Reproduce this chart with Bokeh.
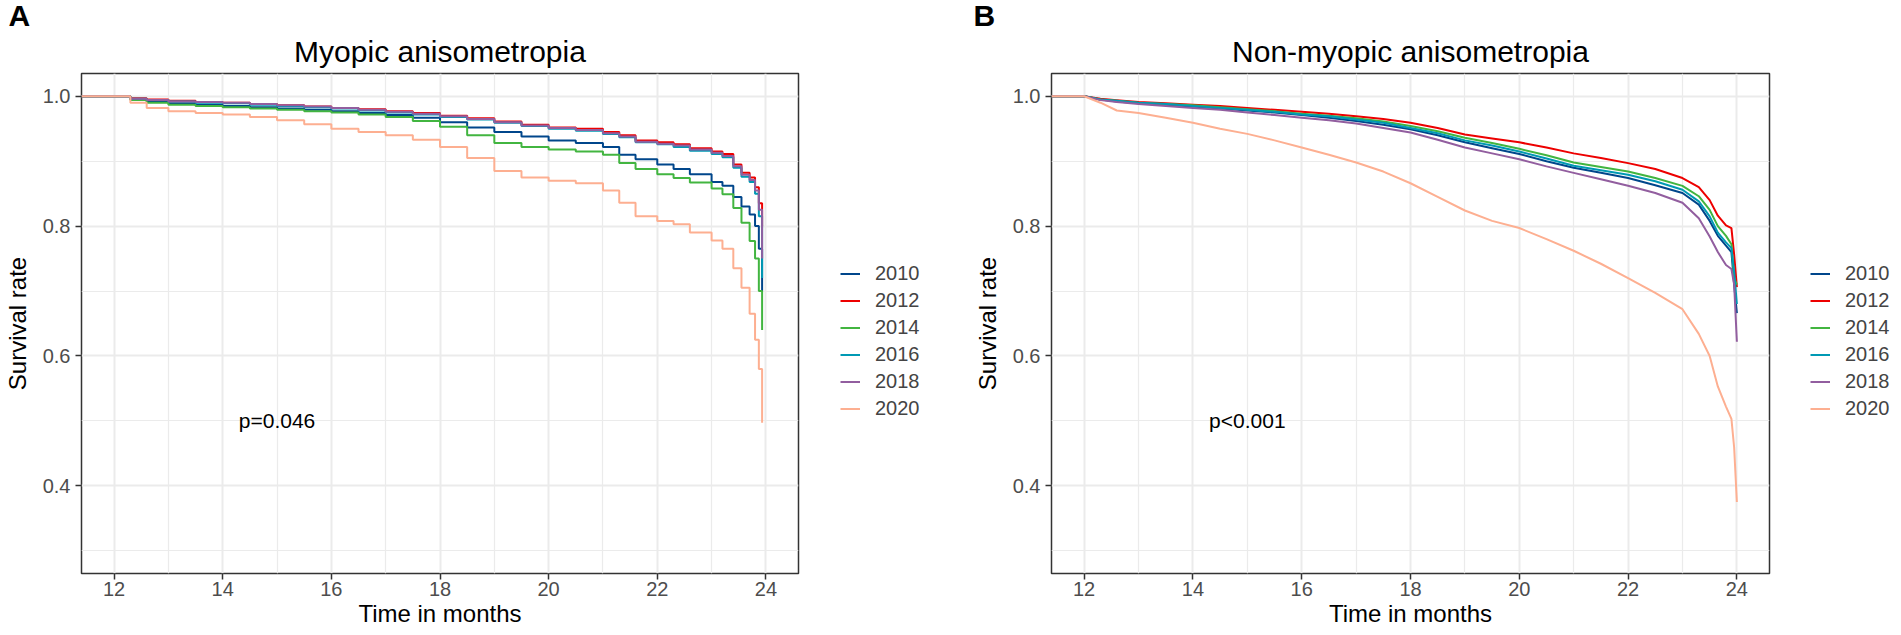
from bokeh.plotting import figure
from bokeh.models import FixedTicker, Legend, LegendItem, Label, Title, Range1d, PrintfTickFormatter
from bokeh.layouts import row
from bokeh.embed import file_html
from bokeh.resources import INLINE

years = ["2010", "2012", "2014", "2016", "2018", "2020"]
colors = ["#00468B", "#ED0000", "#42B540", "#0099B4", "#925E9F", "#FDAF91"]

x_major = [12, 14, 16, 18, 20, 22, 24]
x_minor = [13, 15, 17, 19, 21, 23]
y_major = [0.4, 0.6, 0.8, 1.0]
y_minor = [0.3, 0.5, 0.7, 0.9]

# Panel A: Myopic anisometropia (Kaplan-Meier curves start at time 0 with survival 1.0)
time_a = [0.0, 12.0, 12.3, 12.6, 13.0, 13.5, 14.0, 14.5, 15.0, 15.5, 16.0, 16.5, 17.0, 17.5, 18.0, 18.5,
          19.0, 19.5, 20.0, 20.5, 21.0, 21.3, 21.6, 22.0, 22.3, 22.6, 23.0, 23.2, 23.4, 23.55, 23.7,
          23.8, 23.87, 23.93]
a_2010 = [1.0, 1.0, 0.995, 0.992, 0.989, 0.987, 0.985, 0.983, 0.981, 0.979, 0.977, 0.974, 0.971, 0.967, 0.960, 0.952,
          0.945, 0.938, 0.932, 0.928, 0.922, 0.910, 0.903, 0.895, 0.888, 0.880, 0.868, 0.862, 0.845, 0.830, 0.818,
          0.800, 0.765, 0.700]
a_2012 = [1.0, 1.0, 0.997, 0.995, 0.993, 0.991, 0.990, 0.988, 0.986, 0.984, 0.982, 0.980, 0.977, 0.974, 0.970, 0.966,
          0.961, 0.956, 0.952, 0.950, 0.945, 0.940, 0.932, 0.929, 0.926, 0.920, 0.915, 0.911, 0.895, 0.882, 0.875,
          0.860, 0.835, 0.800]
a_2014 = [1.0, 1.0, 0.994, 0.990, 0.987, 0.985, 0.983, 0.981, 0.979, 0.977, 0.975, 0.972, 0.968, 0.962, 0.953, 0.940,
          0.928, 0.922, 0.918, 0.915, 0.910, 0.897, 0.888, 0.880, 0.874, 0.867, 0.858, 0.849, 0.828, 0.805, 0.777,
          0.750, 0.700, 0.640]
a_2016 = [1.0, 1.0, 0.996, 0.994, 0.992, 0.990, 0.989, 0.987, 0.985, 0.983, 0.981, 0.978, 0.975, 0.972, 0.968, 0.964,
          0.959, 0.954, 0.950, 0.947, 0.942, 0.937, 0.929, 0.926, 0.922, 0.916, 0.911, 0.906, 0.890, 0.876, 0.868,
          0.850, 0.815, 0.720]
a_2018 = [1.0, 1.0, 0.996, 0.994, 0.992, 0.991, 0.990, 0.988, 0.986, 0.984, 0.982, 0.979, 0.976, 0.973, 0.969, 0.965,
          0.960, 0.955, 0.951, 0.948, 0.943, 0.938, 0.930, 0.927, 0.924, 0.918, 0.913, 0.908, 0.892, 0.879, 0.871,
          0.855, 0.825, 0.750]
a_2020 = [1.0, 1.0, 0.990, 0.982, 0.977, 0.974, 0.972, 0.968, 0.963, 0.957, 0.950, 0.945, 0.940, 0.933, 0.922, 0.905,
          0.885, 0.875, 0.870, 0.866, 0.855, 0.836, 0.815, 0.808, 0.803, 0.790, 0.778, 0.765, 0.735, 0.705, 0.665,
          0.625, 0.580, 0.497]

# Panel B: Non-myopic anisometropia
time_b = [0.0, 12.0, 12.3, 12.6, 13.0, 13.5, 14.0, 14.5, 15.0, 15.5, 16.0, 16.5, 17.0, 17.5, 18.0, 18.5,
          19.0, 19.5, 20.0, 20.5, 21.0, 21.5, 22.0, 22.5, 23.0, 23.3, 23.5, 23.65, 23.8, 23.9, 23.95, 24.0]
b_2010 = [1.0, 1.0, 0.995, 0.992, 0.989, 0.987, 0.984, 0.981, 0.978, 0.975, 0.971, 0.967, 0.962, 0.956, 0.949, 0.940,
          0.929, 0.920, 0.911, 0.900, 0.890, 0.882, 0.874, 0.863, 0.851, 0.833, 0.808, 0.785, 0.770, 0.760, 0.710, 0.666]
b_2012 = [1.0, 1.0, 0.996, 0.994, 0.991, 0.989, 0.987, 0.985, 0.982, 0.979, 0.976, 0.973, 0.969, 0.965, 0.959, 0.951,
          0.941, 0.935, 0.929, 0.921, 0.912, 0.905, 0.897, 0.888, 0.874, 0.860, 0.840, 0.816, 0.801, 0.797, 0.756, 0.706]
b_2014 = [1.0, 1.0, 0.995, 0.993, 0.990, 0.988, 0.986, 0.983, 0.980, 0.977, 0.973, 0.970, 0.966, 0.961, 0.954, 0.946,
          0.936, 0.928, 0.919, 0.909, 0.898, 0.891, 0.884, 0.874, 0.862, 0.846, 0.825, 0.800, 0.785, 0.772, 0.720, 0.710]
b_2016 = [1.0, 1.0, 0.995, 0.993, 0.990, 0.988, 0.985, 0.982, 0.979, 0.976, 0.972, 0.969, 0.964, 0.959, 0.951, 0.943,
          0.932, 0.924, 0.915, 0.904, 0.893, 0.886, 0.879, 0.869, 0.856, 0.838, 0.815, 0.790, 0.775, 0.766, 0.730, 0.680]
b_2018 = [1.0, 1.0, 0.994, 0.991, 0.988, 0.985, 0.982, 0.979, 0.975, 0.971, 0.967, 0.963, 0.958, 0.951, 0.944, 0.933,
          0.921, 0.912, 0.903, 0.892, 0.882, 0.872, 0.862, 0.851, 0.836, 0.812, 0.784, 0.760, 0.740, 0.734, 0.710, 0.622]
b_2020 = [1.0, 1.0, 0.990, 0.978, 0.974, 0.967, 0.959, 0.950, 0.942, 0.932, 0.921, 0.910, 0.898, 0.884, 0.866, 0.845,
          0.824, 0.808, 0.797, 0.780, 0.762, 0.742, 0.720, 0.697, 0.672, 0.634, 0.600, 0.553, 0.522, 0.503, 0.459, 0.375]

FONT = "Liberation Sans"
H = 635
TOP = 73
BOTTOM = 62


def draw_series(p, times, series, use_step):
    out = []
    for col, vals in zip(colors, series):
        if use_step:
            out.append(p.step(times, vals, mode="after", line_color=col, line_width=2))
        else:
            out.append(p.line(times, vals, line_color=col, line_width=2))
    return out


def make_panel(letter, title, times, series, use_step, ptext, left, letter_offset):
    p = figure(width=left + 718 + 2, height=H, x_range=Range1d(11.4, 24.6), y_range=Range1d(0.265, 1.035),
               output_backend="svg", toolbar_location=None, title=None,
               min_border_left=left, min_border_right=2, min_border_top=TOP, min_border_bottom=BOTTOM)
    p.background_fill_color = "white"
    p.border_fill_color = "white"
    p.outline_line_color = "#333333"
    p.outline_line_width = 1.5

    p.xaxis.ticker = FixedTicker(ticks=x_major, minor_ticks=x_minor)
    p.yaxis.ticker = FixedTicker(ticks=y_major, minor_ticks=y_minor)
    p.xaxis.formatter = PrintfTickFormatter(format="%d")
    p.yaxis.formatter = PrintfTickFormatter(format="%.1f")
    for ax in (p.xaxis, p.yaxis):
        ax.axis_line_color = None
        ax.major_tick_line_color = "#333333"
        ax.major_tick_line_width = 1.5
        ax.major_tick_out = 6
        ax.major_tick_in = 0
        ax.minor_tick_out = 0
        ax.minor_tick_in = 0
        ax.major_label_text_font = FONT
        ax.major_label_text_font_size = "20px"
        ax.major_label_text_color = "#4D4D4D"
        ax.axis_label_text_font = FONT
        ax.axis_label_text_font_size = "24px"
        ax.axis_label_text_font_style = "normal"
        ax.axis_label_text_color = "black"
    p.xaxis.axis_label = "Time in months"
    p.yaxis.axis_label = "Survival rate"
    p.xaxis.major_label_standoff = 2
    p.yaxis.major_label_standoff = 5
    p.xaxis.axis_label_standoff = 1
    p.yaxis.axis_label_standoff = 9

    for g in (p.xgrid, p.ygrid):
        g.grid_line_color = "#EBEBEB"
        g.grid_line_width = 2
        g.minor_grid_line_color = "#EBEBEB"
        g.minor_grid_line_width = 1.2

    draw_series(p, times, series, use_step)

    p.add_layout(Label(x=15, y=0.5, text=ptext, text_align="center", text_baseline="middle",
                       text_font=FONT, text_font_size="21px", text_color="black"))

    p.add_layout(Title(text=title, align="center", text_font=FONT, text_font_size="30px",
                       text_font_style="normal", text_color="black", standoff=11), "above")
    p.add_layout(Title(text=letter, align="left", offset=letter_offset, text_font=FONT,
                       text_font_size="30px", text_font_style="bold", text_color="black",
                       standoff=-9), "above")
    return p


def make_legend(width, x_off, times, series, use_step):
    # the legend lives in its own narrow figure; its lines are drawn outside its (empty) view
    q = figure(width=width, height=H, x_range=Range1d(100, 101), y_range=Range1d(0, 1),
               output_backend="svg", toolbar_location=None, title=None,
               x_axis_type=None, y_axis_type=None,
               min_border_left=0, min_border_right=0, min_border_top=TOP, min_border_bottom=BOTTOM)
    q.outline_line_color = None
    q.xgrid.visible = False
    q.ygrid.visible = False
    q.background_fill_color = "white"
    q.border_fill_color = "white"
    renderers = draw_series(q, times, series, use_step)
    items = [LegendItem(label=yr, renderers=[r]) for yr, r in zip(years, renderers)]
    legend = Legend(items=items, location=(x_off, 151), orientation="vertical",
                    glyph_width=20, glyph_height=27, label_height=27, spacing=0,
                    label_standoff=15, padding=0, margin=0,
                    label_text_font=FONT, label_text_font_size="20px",
                    border_line_color=None, background_fill_alpha=0)
    q.add_layout(legend, "center")
    return q


series_a = [a_2010, a_2012, a_2014, a_2016, a_2018, a_2020]
series_b = [b_2010, b_2012, b_2014, b_2016, b_2018, b_2020]

pa = make_panel("A", "Myopic anisometropia", time_a, series_a, True, "p=0.046", 80, -73)
la = make_legend(166, 40, time_a, series_a, True)
pb = make_panel("B", "Non-myopic anisometropia", time_b, series_b, False, "p<0.001", 85, -78)
lb = make_legend(130, 39, time_b, series_b, False)

layout = row(pa, la, pb, lb)
open("out.html", "w").write(file_html(layout, INLINE))
